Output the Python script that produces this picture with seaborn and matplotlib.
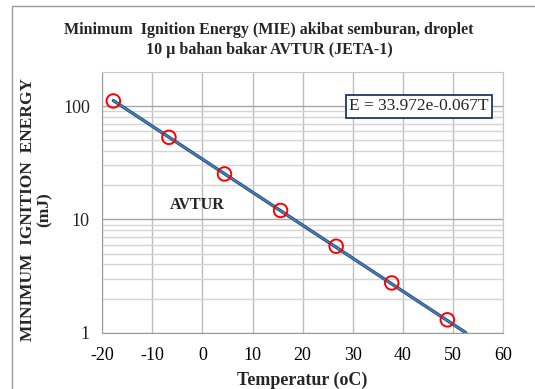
import matplotlib
matplotlib.use("Agg")
import matplotlib.pyplot as plt
import matplotlib.ticker as mticker
from matplotlib.patches import Rectangle
import seaborn as sns
import pandas as pd

# Datos (temperatura en oC, MIE en mJ)
temperatura = [-17.8, -6.7, 4.4, 15.6, 26.7, 37.8, 48.9]
mie = [111.0, 53.0, 25.2, 12.0, 5.8, 2.75, 1.3]

# Linea de tendencia (extremos en eje log)
tendencia_x = [-17.8, 52.6]
tendencia_y = [111.9, 1.0]

ecuacion = "E = 33.972e-0.067T"
titulo = "Minimum  Ignition Energy (MIE) akibat semburan, droplet\n10 \u00b5 bahan bakar AVTUR (JETA-1)"

df_puntos = pd.DataFrame({"T": temperatura, "E": mie})
df_tend = pd.DataFrame({"T": tendencia_x, "E": tendencia_y})

sns.set_style("white")
plt.rcParams["font.family"] = ["Liberation Serif", "DejaVu Serif"]
plt.rcParams["axes.unicode_minus"] = False

fig = plt.figure(figsize=(5.35, 3.89), dpi=100)
ax = fig.add_axes([0.1912, 0.1447, 0.7488, 0.6703])

# marco del area del grafico
fig.patches.append(Rectangle((12 / 535, -0.1), 1.2, 1 - 6 / 389 + 0.1,
                             transform=fig.transFigure, fill=False,
                             edgecolor="#9a9a9a", linewidth=1.0))

ax.set_yscale("log")
ax.set_xlim(-20, 60)
ax.set_ylim(1, 200)

# cuadricula
ax.set_xticks(range(-20, 61, 10))
ax.set_yticks([1, 10, 100])
ax.yaxis.set_major_formatter(mticker.FuncFormatter(lambda v, p: f"{v:g}"))
ax.set_yticks([v * d for d in (1, 10) for v in range(2, 10)], minor=True)
ax.yaxis.set_minor_formatter(mticker.NullFormatter())
ax.grid(True, axis="x", color="#bdbdbd", linewidth=1.0)
ax.grid(True, axis="y", which="major", color="#a6a6a6", linewidth=1.0)
ax.grid(True, axis="y", which="minor", color="#d4d4d4", linewidth=1.0)
ax.set_axisbelow(True)

for lado in ["top", "right"]:
    ax.spines[lado].set_color("#c8c8c8")
for lado in ["left", "bottom"]:
    ax.spines[lado].set_color("#9a9a9a")

sns.lineplot(data=df_tend, x="T", y="E", ax=ax, color="#24507a",
             linewidth=2.4, zorder=3)
sns.lineplot(data=df_tend, x="T", y="E", ax=ax, color="#4f86bd",
             linewidth=1.0, zorder=3)
sns.scatterplot(data=df_puntos, x="T", y="E", ax=ax, marker="o", s=95,
                facecolor="none", edgecolor="red", linewidth=1.4, zorder=4)

ax.tick_params(axis="x", length=0, labelsize=13, pad=10, colors="black")
ax.tick_params(axis="y", which="major", length=5, color="#9a9a9a",
               labelsize=13, pad=4)
ax.tick_params(axis="y", which="minor", length=0)

ax.set_xlabel("Temperatur (oC)", fontsize=13, fontweight="bold", va="center")
ax.xaxis.set_label_coords(0.5, -0.181)
ax.set_ylabel("MINIMUM  IGNITION  ENERGY\n(mJ)", fontsize=12.5,
              fontweight="bold", linespacing=1.1)
ax.yaxis.set_label_coords(-0.123, 0.473)

fig.text(0.503, 0.897, titulo, ha="center", va="center", fontsize=11.5,
         fontweight="bold", linespacing=1.3)

ax.text(0.79, 0.868, ecuacion, transform=ax.transAxes,
        ha="center", va="center", fontsize=12.5,
        bbox=dict(boxstyle="square,pad=0.2", facecolor="white",
                  edgecolor="#1f3864", linewidth=1.3))

ax.text(-1.0, 13.5, "AVTUR", ha="center", va="center", fontsize=11.5,
        fontweight="bold")

fig.savefig("out.png", dpi=100)
